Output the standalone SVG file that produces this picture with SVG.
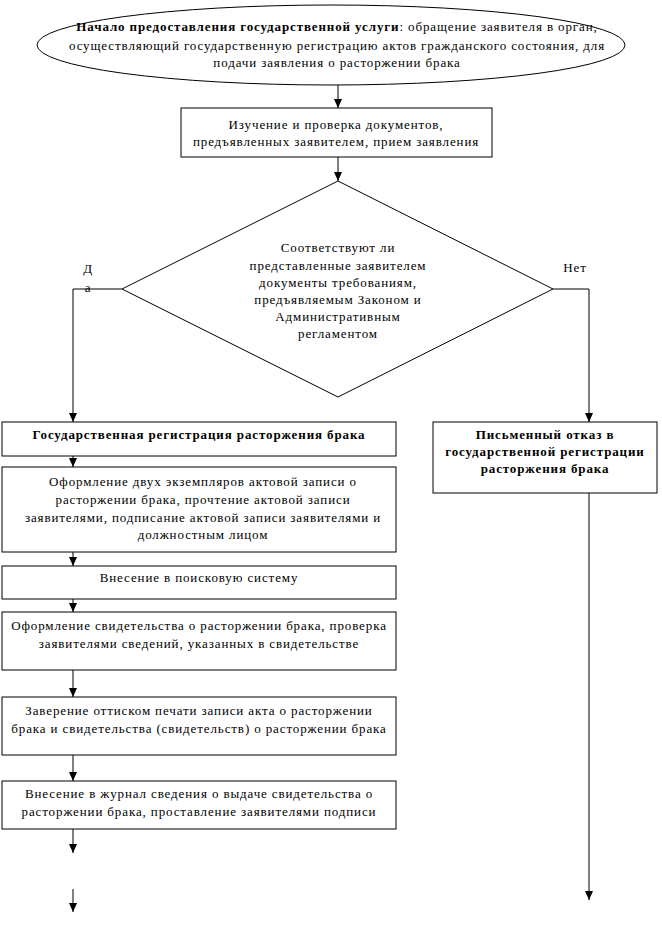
<svg xmlns="http://www.w3.org/2000/svg" width="662" height="938" viewBox="0 0 662 938">
<style>
text{font-size:13px;fill:#000;text-anchor:middle;letter-spacing:0.88px}
.b{font-weight:bold}
.s{fill:#fff;stroke:#000;stroke-width:1}
.c{fill:none;stroke:#000;stroke-width:1}
</style>
<defs>
<marker id="ah" markerWidth="9" markerHeight="8" refX="9" refY="4" orient="auto" markerUnits="userSpaceOnUse" viewBox="0 0 9 8">
<path d="M0,0 L9,4 L0,8 Z" fill="#000"/>
</marker>
</defs>
<rect width="662" height="938" fill="#fff"/>
<g font-family="Liberation Serif, Times New Roman, DejaVu Serif, serif">
<g id="connectors">
<line class="c" x1="338" y1="85" x2="338" y2="108" marker-end="url(#ah)"/>
<line class="c" x1="338" y1="157" x2="338" y2="181" marker-end="url(#ah)"/>
<polyline class="c" points="122,289 73,289 73,422" marker-end="url(#ah)"/>
<polyline class="c" points="553,289 589,289 589,422" marker-end="url(#ah)"/>
<line class="c" x1="73" y1="456" x2="73" y2="467" marker-end="url(#ah)"/>
<line class="c" x1="73" y1="552" x2="73" y2="566" marker-end="url(#ah)"/>
<line class="c" x1="73" y1="599" x2="73" y2="612" marker-end="url(#ah)"/>
<line class="c" x1="73" y1="670" x2="73" y2="697" marker-end="url(#ah)"/>
<line class="c" x1="73" y1="755" x2="73" y2="781" marker-end="url(#ah)"/>
<line class="c" x1="73" y1="829" x2="73" y2="853" marker-end="url(#ah)"/>
<line class="c" x1="73" y1="889" x2="73" y2="912" marker-end="url(#ah)"/>
<line class="c" x1="589" y1="493" x2="589" y2="900" marker-end="url(#ah)"/>
<text x="88" y="273">Д</text>
<text x="88" y="292">а</text>
<text x="575" y="272">Нет</text>
</g>
<g id="start">
<ellipse class="s" cx="331" cy="45" rx="294" ry="40"/>
<text x="337" y="31"><tspan class="b">Начало предоставления государственной услуги</tspan>: обращение заявителя в орган,</text>
<text x="337" y="50">осуществляющий государственную регистрацию актов гражданского состояния, для</text>
<text x="337" y="67">подачи заявления о расторжении брака</text>
</g>
<g id="study">
<rect class="s" x="181" y="108" width="311" height="49"/>
<text x="336" y="129">Изучение и проверка документов,</text>
<text x="336" y="146">предъявленных заявителем, прием заявления</text>
</g>
<g id="decision">
<polygon class="s" points="338,181 553,289 338,397 122,289"/>
<text x="338" y="252">Соответствуют ли</text>
<text x="338" y="270">представленные заявителем</text>
<text x="338" y="287">документы требованиям,</text>
<text x="338" y="304">предъявляемым Законом и</text>
<text x="338" y="321">Административным</text>
<text x="338" y="338">регламентом</text>
</g>
<g id="reg">
<rect class="s" x="2" y="422" width="394" height="34"/>
<text class="b" x="199" y="439">Государственная регистрация расторжения брака</text>
</g>
<g id="act">
<rect class="s" x="2" y="467" width="394" height="85"/>
<text x="203" y="486">Оформление двух экземпляров актовой записи о</text>
<text x="203" y="504">расторжении брака, прочтение актовой записи</text>
<text x="203" y="522">заявителями, подписание актовой записи заявителями и</text>
<text x="203" y="539">должностным лицом</text>
</g>
<g id="search">
<rect class="s" x="2" y="566" width="394" height="33"/>
<text x="199" y="582">Внесение в поисковую систему</text>
</g>
<g id="cert">
<rect class="s" x="2" y="612" width="394" height="58"/>
<text x="199" y="630">Оформление свидетельства о расторжении брака, проверка</text>
<text x="199" y="648">заявителями сведений, указанных в свидетельстве</text>
</g>
<g id="seal">
<rect class="s" x="2" y="697" width="394" height="58"/>
<text x="199" y="715">Заверение оттиском печати записи акта о расторжении</text>
<text x="199" y="733">брака и свидетельства (свидетельств) о расторжении брака</text>
</g>
<g id="journal">
<rect class="s" x="2" y="781" width="394" height="48"/>
<text x="199" y="798">Внесение в журнал сведения о выдаче свидетельства о</text>
<text x="199" y="816">расторжении брака, проставление заявителями подписи</text>
</g>
<g id="refusal">
<rect class="s" x="433" y="422" width="224" height="71"/>
<text class="b" x="545" y="439">Письменный отказ в</text>
<text class="b" x="545" y="456">государственной регистрации</text>
<text class="b" x="545" y="473">расторжения брака</text>
</g>
</g>
</svg>
